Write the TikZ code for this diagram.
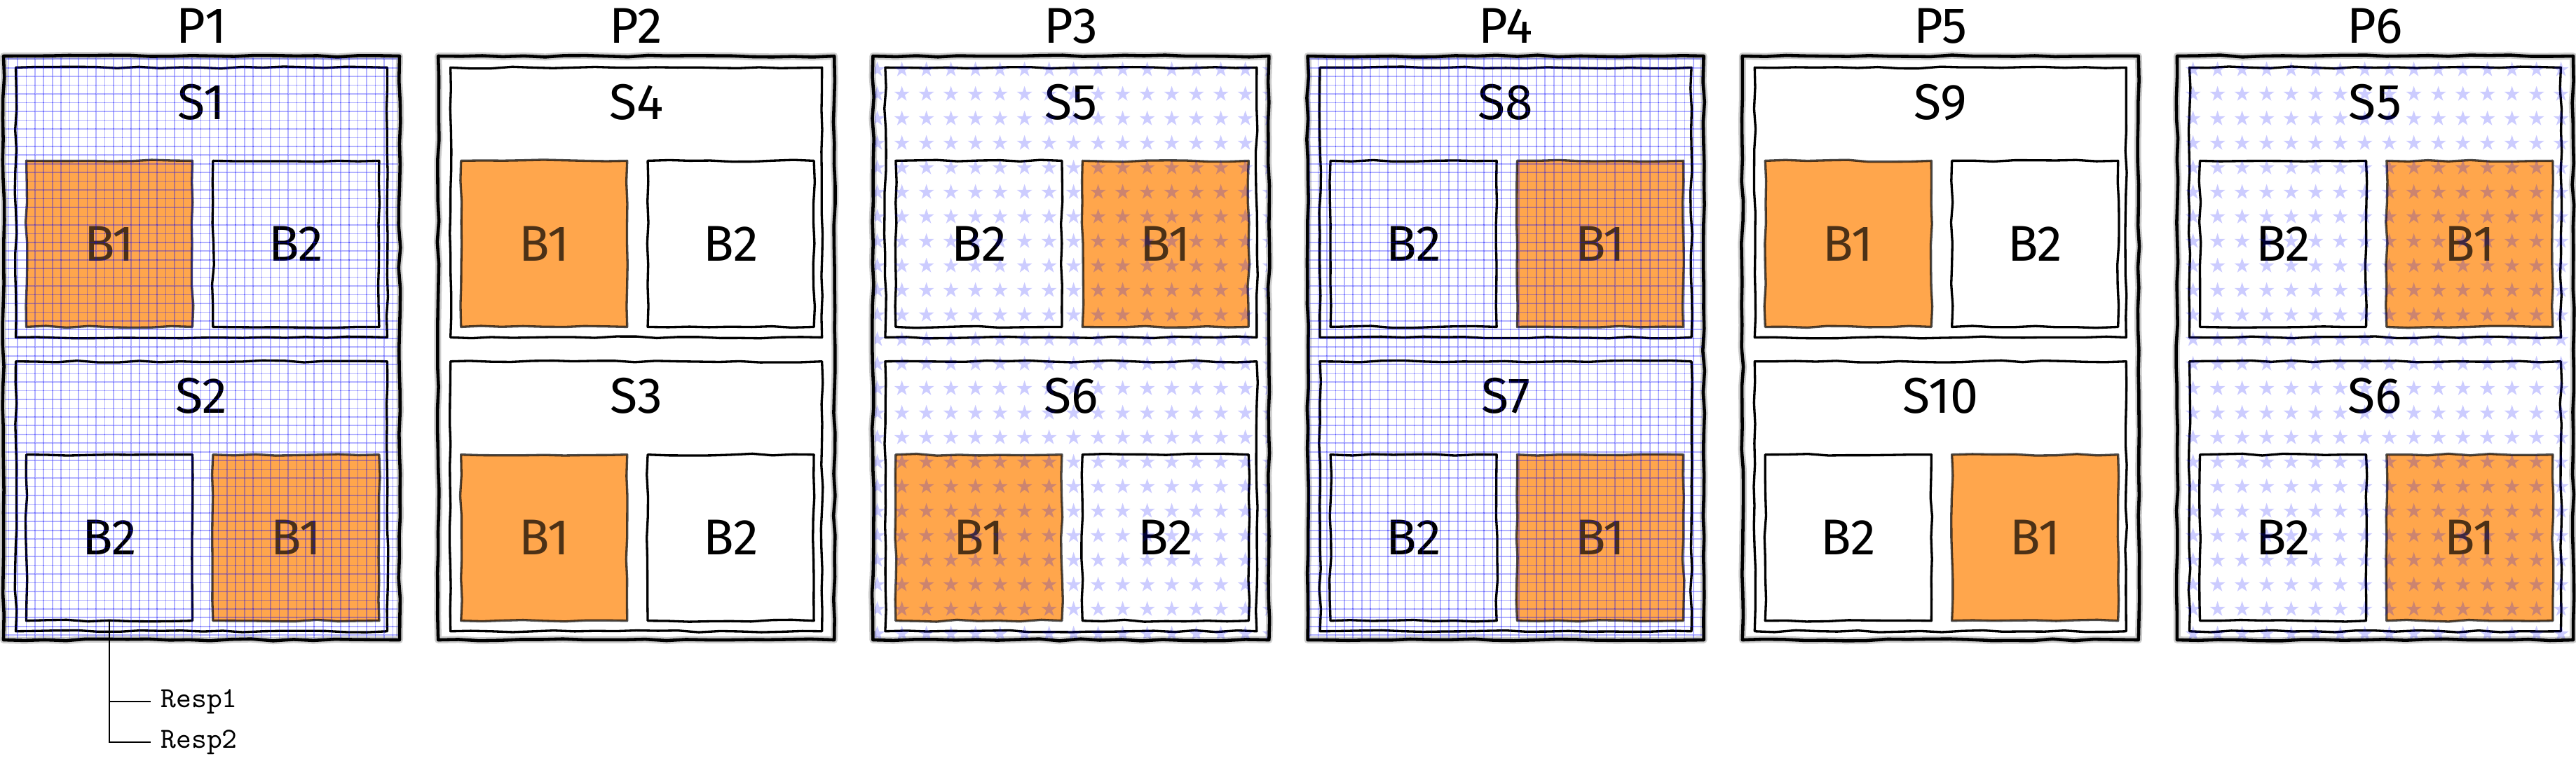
\documentclass[tikz,border=0pt]{standalone}
\usepackage{fontspec}
\setmainfont{Fira Sans}
\usetikzlibrary{positioning,decorations.pathmorphing,patterns}

\begin{document}
\begin{tikzpicture}[x=1mm, y=1mm,
  sketch/.style={decorate, decoration={random steps, segment length=2.5mm, amplitude=0.12mm}, line join=round},
  pframe/.style={sketch, draw, line width=1.1pt, preaction={draw=black!20, line width=2.4pt}, minimum width=47.84mm, minimum height=70.53mm, inner sep=0pt},
  sframe/.style={sketch, draw, line width=0.8pt, minimum width=44.87mm, minimum height=32.6mm, inner sep=0pt},
  bbox/.style={sketch, draw, line width=0.8pt, minimum width=20.07mm, minimum height=20.07mm, inner sep=0pt, font=\LARGE},
  bhot/.style={bbox, fill=orange!70, draw opacity=0.7, text opacity=0.7},
  tag/.style={inner sep=0pt, font=\LARGE},
  resp/.style={anchor=west, font=\fontsize{10}{12}\selectfont\ttfamily},
  gridfill/.style={pattern=grid, pattern color=blue, opacity=0.3},
  starfill/.style={pattern=fivepointed stars, pattern color=blue, opacity=0.2}]
\pgfmathsetseed{42}
\useasboundingbox (0,0) rectangle (311.15,92.54);
% P1
\node[pframe] (p1) at (24.34,50.50) {};
\node[tag] (t1) [above=1.27mm of p1] {P1};
\node[sframe] (p1a) [below=1.44mm of p1.north] {};
\node[tag] (p1at) [below=2.1mm of p1a.north] {S1};
\node[bhot] (p1a1) [below right=11.26mm and 1.27mm of p1a.north west] {B1};
\node[bbox] (p1a2) [right=2.2mm of p1a1] {B2};
\node[sframe] (p1b) [below=2.62mm of p1a] {};
\node[tag] (p1bt) [below=2.1mm of p1b.north] {S2};
\node[bbox] (p1b1) [below right=11.26mm and 1.27mm of p1b.north west] {B2};
\node[bhot] (p1b2) [right=2.2mm of p1b1] {B1};
\fill[gridfill] ([shift={(0.4mm,0.4mm)}]p1.south west) rectangle ([shift={(-0.4mm,-0.4mm)}]p1.north east);
% P2
\node[pframe] (p2) at (76.85,50.50) {};
\node[tag] (t2) [above=1.27mm of p2] {P2};
\node[sframe] (p2a) [below=1.44mm of p2.north] {};
\node[tag] (p2at) [below=2.1mm of p2a.north] {S4};
\node[bhot] (p2a1) [below right=11.26mm and 1.27mm of p2a.north west] {B1};
\node[bbox] (p2a2) [right=2.2mm of p2a1] {B2};
\node[sframe] (p2b) [below=2.62mm of p2a] {};
\node[tag] (p2bt) [below=2.1mm of p2b.north] {S3};
\node[bhot] (p2b1) [below right=11.26mm and 1.27mm of p2b.north west] {B1};
\node[bbox] (p2b2) [right=2.2mm of p2b1] {B2};
% P3
\node[pframe] (p3) at (129.36,50.50) {};
\node[tag] (t3) [above=1.27mm of p3] {P3};
\node[sframe] (p3a) [below=1.44mm of p3.north] {};
\node[tag] (p3at) [below=2.1mm of p3a.north] {S5};
\node[bbox] (p3a1) [below right=11.26mm and 1.27mm of p3a.north west] {B2};
\node[bhot] (p3a2) [right=2.2mm of p3a1] {B1};
\node[sframe] (p3b) [below=2.62mm of p3a] {};
\node[tag] (p3bt) [below=2.1mm of p3b.north] {S6};
\node[bhot] (p3b1) [below right=11.26mm and 1.27mm of p3b.north west] {B1};
\node[bbox] (p3b2) [right=2.2mm of p3b1] {B2};
\fill[starfill] ([shift={(0.4mm,0.4mm)}]p3.south west) rectangle ([shift={(-0.4mm,-0.4mm)}]p3.north east);
% P4
\node[pframe] (p4) at (181.87,50.50) {};
\node[tag] (t4) [above=1.27mm of p4] {P4};
\node[sframe] (p4a) [below=1.44mm of p4.north] {};
\node[tag] (p4at) [below=2.1mm of p4a.north] {S8};
\node[bbox] (p4a1) [below right=11.26mm and 1.27mm of p4a.north west] {B2};
\node[bhot] (p4a2) [right=2.2mm of p4a1] {B1};
\node[sframe] (p4b) [below=2.62mm of p4a] {};
\node[tag] (p4bt) [below=2.1mm of p4b.north] {S7};
\node[bbox] (p4b1) [below right=11.26mm and 1.27mm of p4b.north west] {B2};
\node[bhot] (p4b2) [right=2.2mm of p4b1] {B1};
\fill[gridfill] ([shift={(0.4mm,0.4mm)}]p4.south west) rectangle ([shift={(-0.4mm,-0.4mm)}]p4.north east);
% P5
\node[pframe] (p5) at (234.38,50.50) {};
\node[tag] (t5) [above=1.27mm of p5] {P5};
\node[sframe] (p5a) [below=1.44mm of p5.north] {};
\node[tag] (p5at) [below=2.1mm of p5a.north] {S9};
\node[bhot] (p5a1) [below right=11.26mm and 1.27mm of p5a.north west] {B1};
\node[bbox] (p5a2) [right=2.2mm of p5a1] {B2};
\node[sframe] (p5b) [below=2.62mm of p5a] {};
\node[tag] (p5bt) [below=2.1mm of p5b.north] {S10};
\node[bbox] (p5b1) [below right=11.26mm and 1.27mm of p5b.north west] {B2};
\node[bhot] (p5b2) [right=2.2mm of p5b1] {B1};
% P6
\node[pframe] (p6) at (286.89,50.50) {};
\node[tag] (t6) [above=1.27mm of p6] {P6};
\node[sframe] (p6a) [below=1.44mm of p6.north] {};
\node[tag] (p6at) [below=2.1mm of p6a.north] {S5};
\node[bbox] (p6a1) [below right=11.26mm and 1.27mm of p6a.north west] {B2};
\node[bhot] (p6a2) [right=2.2mm of p6a1] {B1};
\node[sframe] (p6b) [below=2.62mm of p6a] {};
\node[tag] (p6bt) [below=2.1mm of p6b.north] {S6};
\node[bbox] (p6b1) [below right=11.26mm and 1.27mm of p6b.north west] {B2};
\node[bhot] (p6b2) [right=2.2mm of p6b1] {B1};
\fill[starfill] ([shift={(0.4mm,0.4mm)}]p6.south west) rectangle ([shift={(-0.4mm,-0.4mm)}]p6.north east);
% responses
\node[resp] (r1) at (18.2,7.79) {Resp1};
\node[resp] (r2) at (18.2,2.88) {Resp2};
\draw[line width=0.65pt] (p1b1.south) |- (r2.west);
\draw[line width=0.5pt] (p1b1.south) |- (r1.west);
\end{tikzpicture}
\end{document}
